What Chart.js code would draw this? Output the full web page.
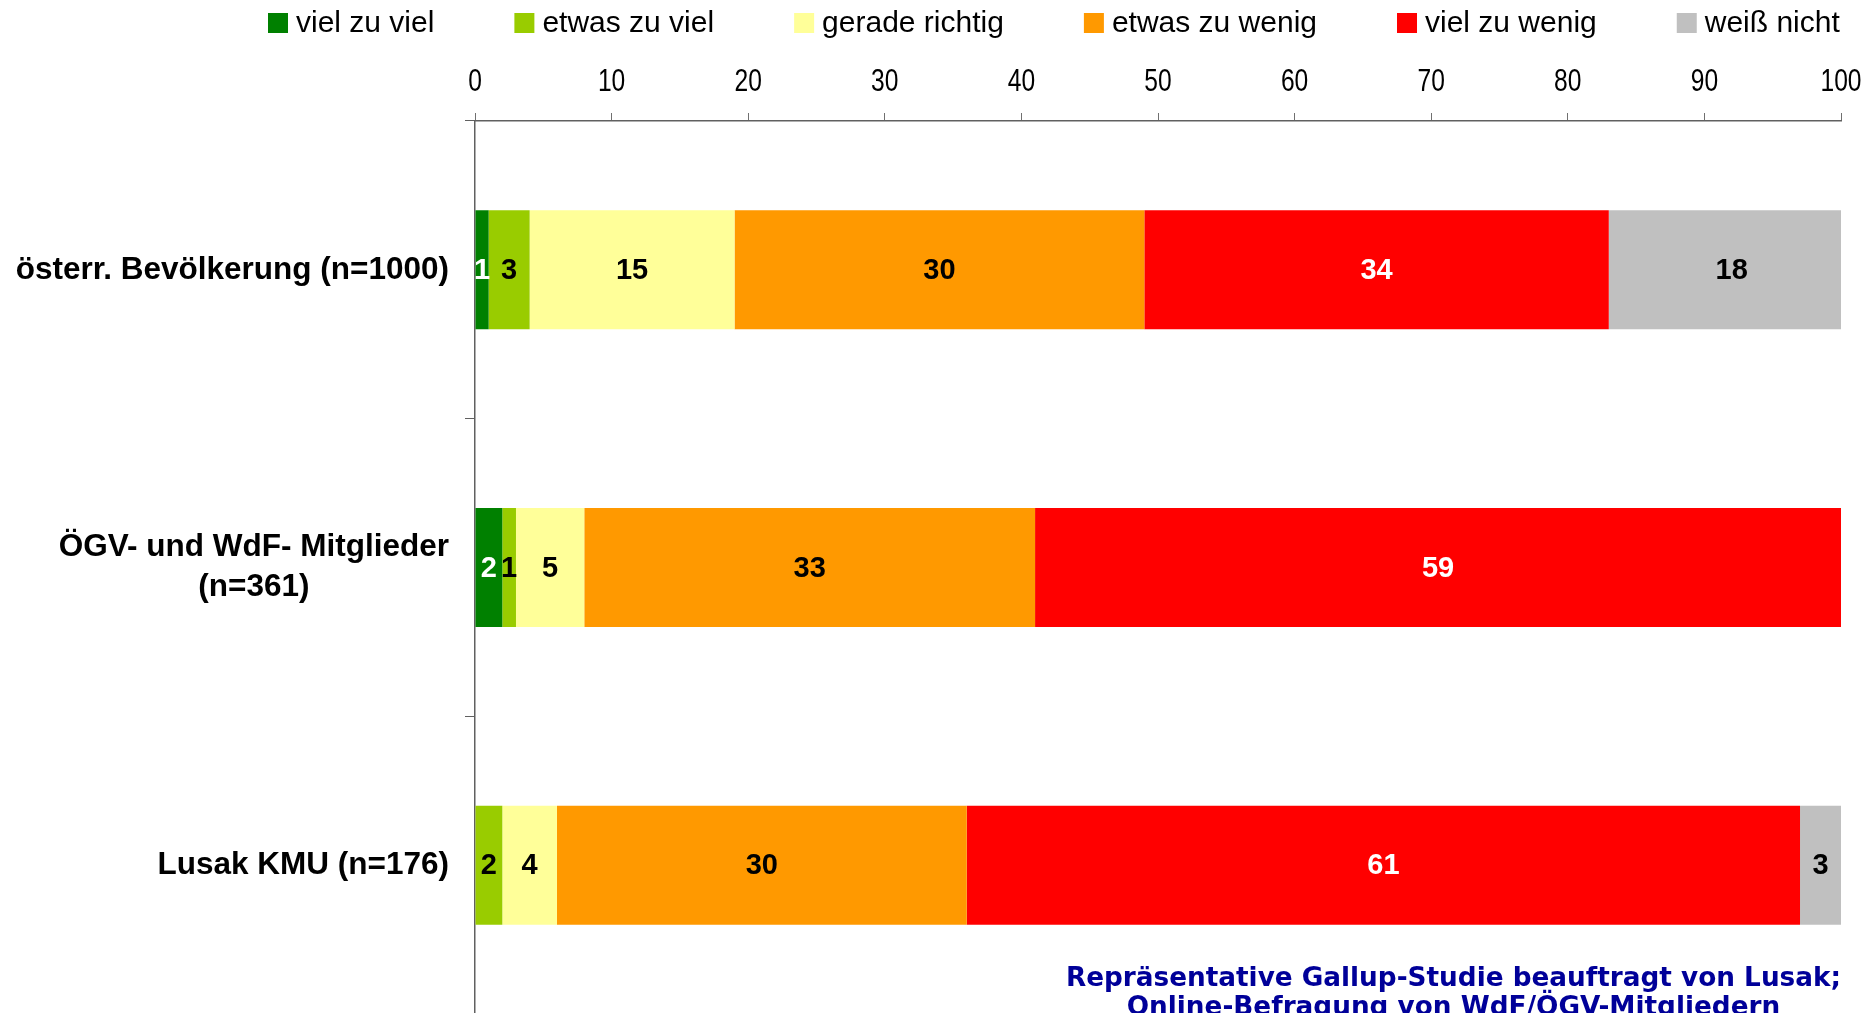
<!DOCTYPE html>
<html>
<head>
<meta charset="utf-8">
<script src="https://cdn.jsdelivr.net/npm/chart.js@4.4.1/dist/chart.umd.min.js"></script>
<style>
  html, body { margin: 0; padding: 0; background: #fff; overflow: hidden; }
  #wrap { width: 1866px; height: 1014px; }
</style>
</head>
<body>
<div id="wrap"><canvas id="meinChart" width="1866" height="1014"></canvas></div>
<script>
// Kategorien (y-Achse)
const categories = [
    'österr. Bevölkerung (n=1000)',
    ['ÖGV- und WdF- Mitglieder', '(n=361)'],
    'Lusak KMU (n=176)'
];
// Antwortkategorien
const seriesNames = ['viel zu viel', 'etwas zu viel', 'gerade richtig', 'etwas zu wenig', 'viel zu wenig', 'weiß nicht'];
// Werte in Prozent
const vielZuViel = [1, 2, 0];
const etwasZuViel = [3, 1, 2];
const geradeRichtig = [15, 5, 4];
const etwasZuWenig = [30, 33, 30];
const vielZuWenig = [34, 59, 61];
const weissNicht = [18, 0, 3];
// x-Achse
const xMin = 0;
const xMax = 100;
const xStep = 10;
// Quellenangabe
const footnote = ['Repräsentative Gallup-Studie beauftragt von Lusak;', 'Online-Befragung von WdF/ÖGV-Mitgliedern'];

const seriesValues = [vielZuViel, etwasZuViel, geradeRichtig, etwasZuWenig, vielZuWenig, weissNicht];
const colors = ['#008000', '#99CC00', '#FFFF99', '#FF9900', '#FF0000', '#C0C0C0'];
const labelColors = ['#FFFFFF', '#000000', '#000000', '#000000', '#FFFFFF', '#000000'];

const sans = "'Liberation Sans', Arial, sans-serif";
const squeeze = 0.82; // schmale Schrift der Achsenzahlen

let datasets = [];
for (let i = 0; i < seriesNames.length; i++) {
    datasets.push({
        label: seriesNames[i],
        data: seriesValues[i],
        backgroundColor: colors[i],
        borderWidth: 0
    })
}

//Legende oben
const topLegend = {
    id: 'topLegend',
    afterDraw(chart) {
        const ctx = chart.ctx;
        ctx.save();
        ctx.font = '30px ' + sans;
        ctx.textBaseline = 'middle';
        ctx.textAlign = 'left';
        let x = 268;
        const y = 23;
        chart.data.datasets.forEach((ds) => {
            ctx.fillStyle = ds.backgroundColor;
            ctx.fillRect(x, y - 10, 20, 20);
            x += 20 + 8;
            ctx.fillStyle = '#000';
            ctx.fillText(ds.label, x, y + 1);
            x += ctx.measureText(ds.label).width + 80;
        })
        ctx.restore();
    }
}

//x-Achsenzahlen (schmal)
const xTickLabels = {
    id: 'xTickLabels',
    afterDraw(chart) {
        const ctx = chart.ctx;
        const xScale = chart.scales.x;
        ctx.save();
        ctx.font = '30px ' + sans;
        ctx.fillStyle = '#000';
        ctx.textBaseline = 'middle';
        ctx.textAlign = 'center';
        xScale.ticks.forEach((t) => {
            ctx.save();
            ctx.translate(xScale.getPixelForValue(t.value), 82);
            ctx.scale(squeeze, 1.05);
            ctx.fillText(String(t.value), 0, 0);
            ctx.restore();
        })
        ctx.restore();
    }
}

//Zahlen in den Balken
const valueLabels = {
    id: 'valueLabels',
    afterDatasetsDraw(chart) {
        const ctx = chart.ctx;
        ctx.save();
        ctx.font = 'bold 29px ' + sans;
        ctx.textBaseline = 'middle';
        ctx.textAlign = 'center';
        chart.data.datasets.forEach((ds, i) => {
            const meta = chart.getDatasetMeta(i);
            meta.data.forEach((bar, j) => {
                const v = ds.data[j];
                if (!v) return;
                ctx.fillStyle = labelColors[i];
                ctx.fillText(String(v), (bar.x + bar.base) / 2, bar.y + 1);
            })
        })
        ctx.restore();
    }
}

//Kategorienbeschriftung + Quelle
const sideLabels = {
    id: 'sideLabels',
    afterDraw(chart) {
        const ctx = chart.ctx;
        const yScale = chart.scales.y;
        const right = yScale.right - 26;
        ctx.save();
        ctx.fillStyle = '#000';
        ctx.textBaseline = 'middle';
        ctx.textAlign = 'center';
        ctx.font = 'bold 31.5px ' + sans;
        categories.forEach((cat, i) => {
            const lines = Array.isArray(cat) ? cat : [cat];
            const y = yScale.getPixelForValue(i);
            let w = Math.max(...lines.map(l => ctx.measureText(l).width));
            lines.forEach((line, k) => {
                ctx.fillText(line, right - w / 2, y + (k - (lines.length - 1) / 2) * 40);
            })
        })

        ctx.font = "bold 26.3px 'DejaVu Sans', Verdana, sans-serif";
        ctx.fillStyle = '#000099';
        let fw = Math.max(...footnote.map(l => ctx.measureText(l).width));
        const cx = chart.chartArea.right - fw / 2;
        footnote.forEach((line, k) => {
            ctx.fillText(line, cx, 979 + k * 29);
        })
        ctx.restore();
    }
}

const canvas = document.getElementById('meinChart');
let barChart = new Chart(canvas, {
    type: 'bar',
    data: {
        labels: categories,
        datasets: datasets
    },
    plugins: [valueLabels, sideLabels, topLegend, xTickLabels],
    options: {
        indexAxis: 'y',
        responsive: false,
        animation: false,
        layout: {
            padding: { left: 0, right: 25, top: 48, bottom: 0 }
        },
        datasets: {
            bar: {
                categoryPercentage: 0.4,
                barPercentage: 1.0
            }
        },
        plugins: {
            legend: { display: false },
            tooltip: { enabled: false },
            title: { display: false }
        },
        scales: {
            x: {
                position: 'top',
                stacked: true,
                min: xMin,
                max: xMax,
                afterFit: function (scale) { scale.height = 73 },
                ticks: {
                    stepSize: xStep,
                    display: false
                },
                grid: {
                    drawOnChartArea: false,
                    tickLength: 8,
                    color: '#707070'
                },
                border: { color: '#606060', width: 1.5 }
            },
            y: {
                stacked: true,
                afterFit: function (scale) { scale.width = 475 },
                ticks: { display: false },
                grid: {
                    offset: true,
                    drawOnChartArea: false,
                    tickLength: 10,
                    color: '#606060'
                },
                border: { color: '#606060', width: 1.5 }
            }
        }
    }
})
</script>
</body>
</html>
